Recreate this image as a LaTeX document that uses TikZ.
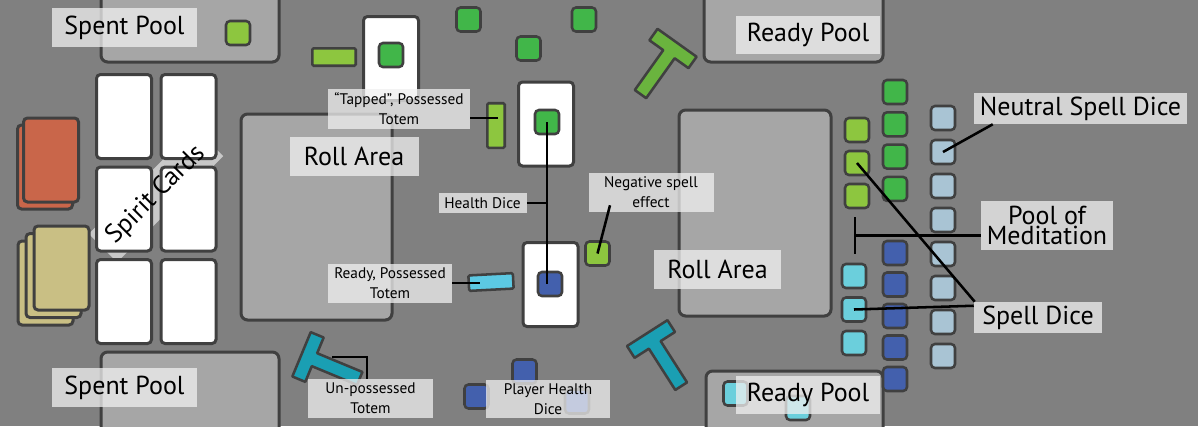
\documentclass[tikz,border=0pt]{standalone}
\usepackage{fontspec}
\setmainfont{PT Sans}
\usetikzlibrary{calc}
\definecolor{bggray}{HTML}{808080}
\definecolor{areagray}{HTML}{A6A6A6}
\definecolor{edgegray}{HTML}{404040}
\definecolor{lblgray}{HTML}{F0F0F0}
\definecolor{bandgray}{HTML}{C8C8C8}
\definecolor{dkgreen}{HTML}{41B649}
\definecolor{ltgreen}{HTML}{8DC63F}
\definecolor{tgreen}{HTML}{6AB43E}
\definecolor{dkblue}{HTML}{4360AD}
\definecolor{ltcyan}{HTML}{6BCFDC}
\definecolor{barcyan}{HTML}{5CC9E3}
\definecolor{tteal}{HTML}{1A9FB3}
\definecolor{neutral}{HTML}{A9C4D4}
\definecolor{deckred}{HTML}{C9664A}
\definecolor{decktan}{HTML}{C9BF84}

\begin{document}
\begin{tikzpicture}[x=0.75pt,y=-0.75pt,
  area/.style={draw=edgegray,fill=areagray,line width=2.25pt,rounded corners=5pt},
  card/.style={draw=edgegray,fill=white,line width=2.25pt,rounded corners=3pt,minimum width=41.25pt,minimum height=63pt,inner sep=0pt},
  deck/.style={card,fill=#1},
  die/.style={draw=edgegray,fill=#1,line width=1.9pt,rounded corners=3pt,minimum size=18pt,inner sep=0pt},
  bar/.style={draw=edgegray,fill=#1,line width=1.9pt,rounded corners=1pt,inner sep=0pt},
  lbl/.style={fill=lblgray,fill opacity=0.75,text opacity=1,inner sep=0pt,align=center},
  biglbl/.style={lbl,font=\fontsize{19.5}{19}\selectfont},
  smalllbl/.style={lbl,font=\fontsize{11.5}{15}\selectfont},
  conn/.style={black,line width=1.9pt},
  pics/totem/.style={code={\draw[draw=edgegray,line width=1.9pt,line join=round,fill=#1] (-24,-7) -- (24,-7) -- (24,7) -- (7,7) -- (7,56) -- (-7,56) -- (-7,7) -- (-24,7) -- cycle;}}]
\clip (0,0) rectangle (1198,426);
\fill[bggray] (0,0) rectangle (1198,426);
\draw[area] (101,-10) rectangle (279,62);
\draw[area] (101,352) rectangle (279,440);
\draw[area] (704,-10) rectangle (883,62);
\draw[area] (706,371) rectangle (883,440);
\draw[area] (241,114) rectangle (392,320);
\draw[area] (679,110) rectangle (831,316);
\node[fill=bandgray,rotate=45,minimum width=112.5pt,minimum height=30pt] (spiritband) at (156,195) {};
\node[deck=deckred] (red2) at (45,167) {};
\node[deck=deckred] (red1) at (51,160) {};
\node[deck=decktan] (tan3) at (45.5,283) {};
\node[deck=decktan] (tan2) at (53.5,275.5) {};
\node[deck=decktan] (tan1) at (61.5,268) {};
\foreach \r/\y in {1/116.5,2/209,3/301.5} {
  \node[card] (sca\r) at (124,\y) {};
  \node[card] (scb\r) at (188.5,\y) {};
}
\node[rotate=45,font=\fontsize{19.5}{19}\selectfont] (spiritlbl) at (spiritband.center) {Spirit Cards};
\node[card] (tapcard) at (391,58.5) {};
\node[card] (topcard) at (546,124) {};
\node[card] (botcard) at (550.5,284.5) {};
\node[bar=ltgreen,minimum width=32.6pt,minimum height=13.1pt] (hbar) at (334,57) {};
\node[bar=ltgreen,minimum width=13.1pt,minimum height=33.4pt] (vbar) at (496,125.5) {};
\node[bar=barcyan,minimum width=33.4pt,minimum height=11.6pt,rotate=3] (readybar) at (491,282) {};
\pic[rotate=-35.5] at (673,48.5) {totem=tgreen};
\pic[rotate=32.6] at (651,339) {totem=tteal};
\coordinate (unpos) at (332,357);
\draw[conn] (unpos) -| (367,379);
\pic[rotate=67.5] at (308,357) {totem=tteal};
\node[die=ltgreen] (sd) at (238,33) {};
\node[die=dkgreen] (f1) at (468.5,19.5) {};
\node[die=dkgreen] (f2) at (584,19.5) {};
\node[die=dkgreen] (f3) at (528.5,48.5) {};
\node[die=dkgreen] (tapdie) at (391,55) {};
\node[die=dkgreen] (hdtop) at (547,122) {};
\node[die=dkblue] (hdbot) at (550,284) {};
\node[die=ltgreen] (negdie) at (597.5,253.5) {};
\node[die=dkblue] (ph1) at (524.5,371.5) {};
\node[die=dkblue] (ph2) at (476.5,396.5) {};
\node[die=dkblue] (ph3) at (577,401.5) {};
\node[die=ltcyan] (rp1) at (735.5,393.5) {};
\node[die=ltcyan] (rp2) at (798,408) {};
\foreach \i in {1,2,3} {
  \node[die=ltgreen] (lg\i) at (857,{130+33*(\i-1)}) {};
  \node[die=ltcyan] (cy\i) at (854,{276+33.5*(\i-1)}) {};
}
\foreach \i in {1,...,4}
  \node[die=dkgreen] (gr\i) at (895,{92+32.3*(\i-1)}) {};
\foreach \i in {1,...,5}
  \node[die=dkblue] (bl\i) at (895,{253+31.5*(\i-1)}) {};
\foreach \i in {1,...,8}
  \node[die=neutral] (nt\i) at (943,{118+34*(\i-1)}) {};
\node[biglbl,minimum width=108.75pt,minimum height=29.25pt] (spentlblA) at (124.5,27.5) {Spent Pool};
\node[biglbl,minimum width=108.75pt,minimum height=29.25pt] (spentlblB) at (124.5,387.5) {Spent Pool};
\node[biglbl,minimum width=108pt,minimum height=28.5pt] (readylblA) at (808,35) {Ready Pool};
\node[biglbl,minimum width=108pt,minimum height=28.5pt] (readylblB) at (808,395) {Ready Pool};
\node[biglbl,minimum width=96.75pt,minimum height=29.25pt] (rolllblA) at (354,156.5) {Roll Area};
\node[biglbl,minimum width=95.25pt,minimum height=29.25pt] (rolllblB) at (717.5,269.5) {Roll Area};
\node[smalllbl,minimum width=106.5pt,minimum height=30pt] (tappedlbl) at (399,109) {“Tapped”, Possessed\\Totem};
\node[smalllbl,minimum width=66pt,minimum height=15pt] (healthlbl) at (482.5,203) {Health Dice};
\node[smalllbl,minimum width=93.75pt,minimum height=29.25pt] (neglbl) at (651,192.5) {Negative spell\\effect};
\node[smalllbl,minimum width=93pt,minimum height=29.25pt] (readylbl) at (390,283) {Ready, Possessed\\Totem};
\node[smalllbl,minimum width=93.75pt,minimum height=29.25pt] (unposlbl) at (370.5,398.5) {Un-possessed\\Totem};
\node[smalllbl,minimum width=93pt,minimum height=28.5pt] (playerlbl) at (548,399) {Player Health\\Dice};
\node[biglbl,minimum width=159.75pt,minimum height=23.25pt] (neutrallbl) at (1080.5,108.5) {Neutral Spell Dice};
\node[lbl,font=\fontsize{19.5}{15}\selectfont,minimum width=99pt,minimum height=36.75pt] (poollbl) at (1047,225.5) {Pool of\\Meditation};
\node[biglbl,minimum width=96pt,minimum height=23.25pt] (spelllbl) at (1038,317.5) {Spell Dice};
\coordinate (tapend) at (498,118);
\draw[conn] (tapend) -- (tapend -| tappedlbl.east);
\draw[conn] (hdtop.center) -- (hdtop.center |- hdbot.center);
\draw[conn] (healthlbl.east) -- (healthlbl.east -| hdtop.center);
\draw[conn] ($(neglbl.south)+(-41,-7)$) -- (negdie.center);
\draw[conn] (readylbl.east) -- ++(28,0);
\draw[conn] ($(neutrallbl.south west)+(19,0)$) -- (nt2.center);
\coordinate (medtop) at (855,217);
\coordinate (medbot) at (855,254);
\coordinate (medmid) at ($(medtop)!0.5!(medbot)$);
\draw[conn] (medtop) -- (medbot) (medmid) -- (medmid -| poollbl.west);
\draw[conn] (lg2.center) -- ($(spelllbl.north west)+(1,0)$);
\draw[conn] (cy2.center) -- ($(spelllbl.north west)+(0,4)$);
\end{tikzpicture}
\end{document}
